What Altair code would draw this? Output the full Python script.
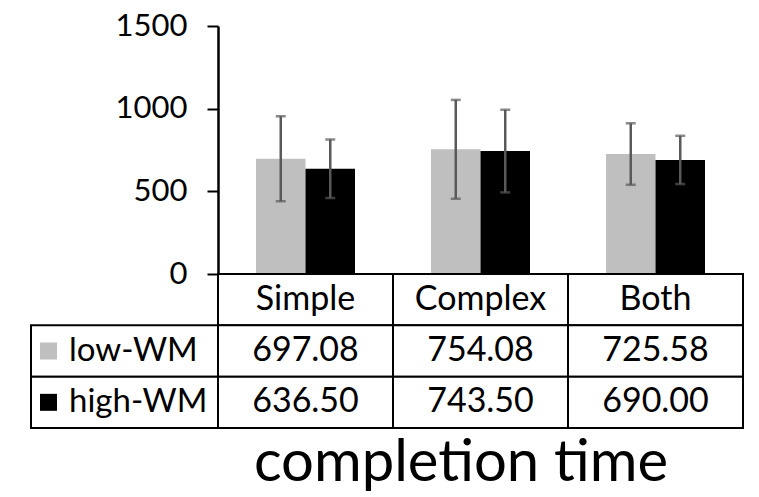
import altair as alt
import pandas as pd

# ---- data ----
categories = ["Simple", "Complex", "Both"]
groups = ["low-WM", "high-WM"]
low_wm = [697.08, 754.08, 725.58]
high_wm = [636.50, 743.50, 690.00]
low_wm_err = [257, 299, 186]
high_wm_err = [177, 250, 146]
y_ticks = [0, 500, 1000, 1500]
title_text = "completion time"

# ---- style / layout ----
colors = ["#BFBFBF", "#000000"]
ERR_COLOR = "#595959"
FONT = "Lato"
LEGEND_W = 187
COL_W = 175
W = LEGEND_W + COL_W * len(categories)
PLOT_H = 248
TABLE_H = 154
BAR_W = 49.5

rows = []
for g, vals, errs in [(groups[0], low_wm, low_wm_err), (groups[1], high_wm, high_wm_err)]:
    for c, v, e in zip(categories, vals, errs):
        rows.append({"category": c, "group": g, "value": v, "lo": v - e, "hi": v + e})
df = pd.DataFrame(rows)

cat_po = (W / COL_W - len(categories)) / 2
x_scale = alt.Scale(type="band", domain=categories, paddingInner=0,
                    paddingOuter=cat_po, align=1)
off_po = (COL_W / BAR_W - 2) / 2
xoff_scale = alt.Scale(type="band", domain=groups, paddingInner=0, paddingOuter=off_po)
color_scale = alt.Scale(domain=groups, range=colors)
y_scale = alt.Scale(domain=[0, 1500], nice=False)

x_enc = alt.X("category:N", scale=x_scale, axis=None)
xoff = alt.XOffset("group:N", scale=xoff_scale)
y_axis = alt.Axis(
    values=y_ticks, format="d", title=None, grid=False, offset=-LEGEND_W,
    domainColor="black", domainWidth=2.5, tickColor="black",
    tickWidth=2, tickSize=11, labelFont=FONT, labelFontSize=31,
    labelColor="black", labelPadding=20,
)

bars = alt.Chart(df).mark_bar().encode(
    x=x_enc,
    xOffset=xoff,
    y=alt.Y("value:Q", scale=y_scale, axis=y_axis, title=None),
    color=alt.Color("group:N", scale=color_scale, legend=None),
)
err = alt.Chart(df).mark_rule(color=ERR_COLOR, strokeWidth=2.5).encode(
    x=x_enc, xOffset=xoff,
    y=alt.Y("lo:Q", scale=y_scale, title=None), y2=alt.Y2("hi:Q", title=None),
)
cap_lo = alt.Chart(df).mark_tick(color=ERR_COLOR, thickness=2.5, size=10).encode(
    x=x_enc, xOffset=xoff, y=alt.Y("lo:Q", scale=y_scale, title=None),
)
cap_hi = alt.Chart(df).mark_tick(color=ERR_COLOR, thickness=2.5, size=10).encode(
    x=x_enc, xOffset=xoff, y=alt.Y("hi:Q", scale=y_scale, title=None),
)
top = alt.layer(bars, err, cap_lo, cap_hi).properties(width=W, height=PLOT_H)

# ---- data table ----
table_rows = ["header"] + groups
cells = []
for c in categories:
    cells.append({"category": c, "row": "header", "label": c})
for g, vals in zip(groups, [low_wm, high_wm]):
    for c, v in zip(categories, vals):
        cells.append({"category": c, "row": g, "label": f"{v:.2f}"})
cells_df = pd.DataFrame(cells)
legend_df = pd.DataFrame({"legendcol": ["legend"] * len(groups), "row": groups, "group": groups})

row_scale = alt.Scale(type="band", domain=table_rows, paddingInner=0, paddingOuter=0)
leg_scale = alt.Scale(type="band", domain=["legend"], paddingInner=0, paddingOuter=0,
                      range=[0, LEGEND_W])
y_row = alt.Y("row:N", scale=row_scale, axis=None)

cell_rect = alt.Chart(cells_df).mark_rect(fill="white", stroke="black", strokeWidth=2).encode(
    x=x_enc, y=y_row)
cell_text = alt.Chart(cells_df).mark_text(font=FONT, fontSize=34, color="black").encode(
    x=x_enc, y=y_row, text="label:N")
leg_rect = alt.Chart(legend_df).mark_rect(fill="white", stroke="black", strokeWidth=2).encode(
    x=alt.X("legendcol:N", scale=leg_scale, axis=None), y=y_row)
leg_sq = alt.Chart(legend_df).mark_square(size=289, opacity=1, xOffset=17.5).encode(
    x=alt.X("legendcol:N", scale=leg_scale, axis=None, bandPosition=0), y=y_row,
    color=alt.Color("group:N", scale=color_scale, legend=None))
leg_text = alt.Chart(legend_df).mark_text(font=FONT, fontSize=33, color="black",
                                          align="left", dx=38).encode(
    x=alt.X("legendcol:N", scale=leg_scale, axis=None, bandPosition=0), y=y_row,
    text="row:N")

table = alt.layer(cell_rect, cell_text, leg_rect, leg_sq, leg_text).resolve_scale(
    x="independent").properties(
    width=W, height=TABLE_H,
    title=alt.TitleParams(title_text, orient="bottom", anchor="middle", fontSize=58,
                          font=FONT, fontWeight="normal", color="black", dx=74, offset=6),
)

chart = alt.vconcat(top, table, spacing=0, bounds="flush").resolve_scale(
    x="independent", y="independent").configure_view(stroke=None).properties(
    padding={"left": 22, "top": 2, "right": 5, "bottom": 5})

chart.save("out.html", embed_options={"renderer": "svg", "actions": False})
